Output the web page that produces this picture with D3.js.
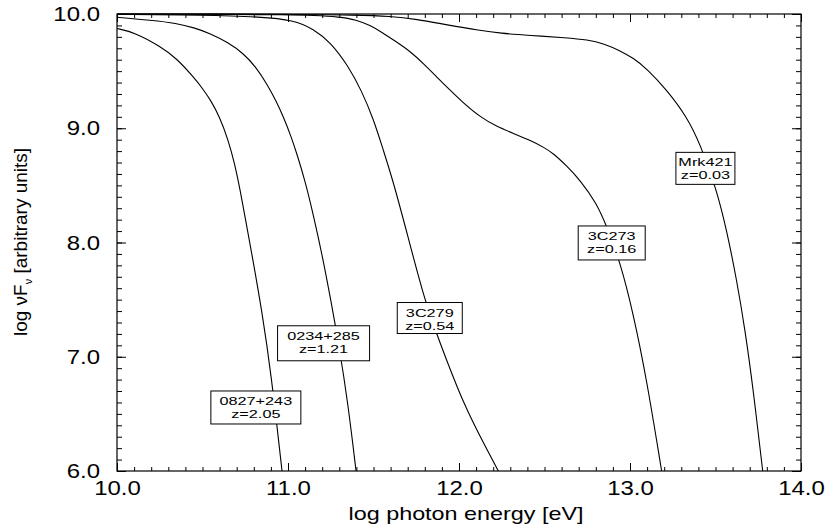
<!DOCTYPE html>
<html>
<head>
<meta charset="utf-8">
<script src="https://cdn.jsdelivr.net/npm/d3@7"></script>
<style>
  body { margin: 0; background: #fff; }
  text { font-family: "Liberation Sans", Arial, sans-serif; fill: #000; }
</style>
</head>
<body>
<script>
// spectra: [log photon energy, log nuFnu]
const s0827 = [[10.00, 9.873], [10.10, 9.84], [10.25, 9.72], [10.35, 9.61], [10.446, 9.45],
  [10.50, 9.35], [10.55, 9.24], [10.60, 9.10], [10.65, 8.90], [10.69, 8.68], [10.72, 8.46],
  [10.758, 8.15], [10.797, 7.83], [10.846, 7.41], [10.90, 6.87], [10.965, 6.00]];
const s0234 = [[10.00, 9.971], [10.20, 9.945], [10.349, 9.919], [10.45, 9.88], [10.544, 9.831],
  [10.65, 9.75], [10.739, 9.656], [10.81, 9.54], [10.875, 9.393], [10.93, 9.24], [10.973, 9.10],
  [11.02, 8.92], [11.051, 8.78], [11.10, 8.54], [11.15, 8.23], [11.20, 7.89], [11.25, 7.50],
  [11.30, 7.08], [11.35, 6.60], [11.398, 6.00]];
const s3C279 = [[10.00, 9.996], [10.50, 9.99], [10.85, 9.975], [11.03, 9.947], [11.15, 9.87],
  [11.25, 9.75], [11.35, 9.55], [11.43, 9.33], [11.50, 9.08], [11.557, 8.81], [11.613, 8.547],
  [11.70, 8.06], [11.80, 7.49], [11.87, 7.20], [11.94, 6.92], [12.02, 6.62], [12.10, 6.37],
  [12.17, 6.17], [12.23, 6.00]];
const s3C273 = [[10.00, 10.00], [10.60, 9.998], [11.00, 9.993], [11.15, 9.988], [11.30, 9.975],
  [11.40, 9.95], [11.48, 9.90], [11.55, 9.84], [11.63, 9.76], [11.713, 9.676], [11.80, 9.555],
  [11.87, 9.45], [11.928, 9.362], [12.025, 9.222], [12.123, 9.10], [12.22, 9.015], [12.318, 8.955],
  [12.415, 8.895], [12.50, 8.83], [12.551, 8.78], [12.63, 8.67], [12.708, 8.547], [12.805, 8.343],
  [12.864, 8.14], [12.942, 7.832], [13.019, 7.38], [13.098, 6.797], [13.185, 6.00]];
const sMrk421 = [[10.00, 10.00], [11.00, 9.999], [11.40, 9.99], [11.60, 9.98], [11.75, 9.955],
  [11.93, 9.905], [12.123, 9.856], [12.24, 9.832], [12.415, 9.812], [12.63, 9.792], [12.75, 9.775],
  [12.85, 9.74], [12.94, 9.68], [13.019, 9.615], [13.10, 9.52], [13.215, 9.335], [13.332, 9.101],
  [13.409, 8.868], [13.507, 8.46], [13.565, 8.109], [13.624, 7.672], [13.673, 7.234],
  [13.721, 6.709], [13.776, 6.00]];

const spectra = [s0827, s0234, s3C279, s3C273, sMrk421];
const sources = ["0827+243", "0234+285", "3C279", "3C273", "Mrk421"];
const redshifts = ["z=2.05", "z=1.21", "z=0.54", "z=0.16", "z=0.03"];

const xTicks = [10, 11, 12, 13, 14];
const yTicks = [6, 7, 8, 9, 10];

// label boxes: centre in data units, size in px
const boxes = [
  {cx: 10.812, cy: 6.556, w: 90, h: 33},
  {cx: 11.208, cy: 7.118, w: 92, h: 35},
  {cx: 11.829, cy: 7.339, w: 65, h: 31},
  {cx: 12.893, cy: 7.996, w: 67, h: 34},
  {cx: 13.441, cy: 8.649, w: 59, h: 32}
];

const width = 825, height = 529;
const margin = {top: 14, right: 24, bottom: 58, left: 117};
const stretch = 1.23;   // the original type is set wide

const svg = d3.select("body").append("svg")
  .attr("width", width)
  .attr("height", height);

const x = d3.scaleLinear().domain([10, 14]).range([margin.left, width - margin.right]);
const y = d3.scaleLinear().domain([6, 10]).range([height - margin.bottom, margin.top]);

const minorX = d3.range(10, 14.001, 0.1);
const minorY = d3.range(6, 10.001, 0.1);

function frame(g) { g.select(".domain").remove(); g.selectAll("line").attr("stroke", "#000"); }

// minor ticks, all four sides, pointing in
svg.append("g").attr("transform", `translate(0,${y(6)})`)
  .call(d3.axisBottom(x).tickValues(minorX).tickSize(-4).tickFormat("")).call(frame);
svg.append("g").attr("transform", `translate(0,${y(10)})`)
  .call(d3.axisTop(x).tickValues(minorX).tickSize(-4).tickFormat("")).call(frame);
svg.append("g").attr("transform", `translate(${x(10)},0)`)
  .call(d3.axisLeft(y).tickValues(minorY).tickSize(-5).tickFormat("")).call(frame);
svg.append("g").attr("transform", `translate(${x(14)},0)`)
  .call(d3.axisRight(y).tickValues(minorY).tickSize(-5).tickFormat("")).call(frame);

// major ticks + labels
const xAxis = svg.append("g").attr("transform", `translate(0,${y(6)})`)
  .call(d3.axisBottom(x).tickValues(xTicks).tickSize(-8).tickFormat(d3.format(".1f"))).call(frame);
xAxis.selectAll("text").attr("y", 24).attr("dy", null)
  .attr("font-size", 19.5).attr("transform", `scale(${stretch},1)`);

svg.append("g").attr("transform", `translate(0,${y(10)})`)
  .call(d3.axisTop(x).tickValues(xTicks).tickSize(-8).tickFormat("")).call(frame);

const yAxis = svg.append("g").attr("transform", `translate(${x(10)},0)`)
  .call(d3.axisLeft(y).tickValues(yTicks).tickSize(-9).tickFormat(d3.format(".1f"))).call(frame);
yAxis.selectAll("text").attr("x", -17 / stretch).attr("dy", "0.34em")
  .attr("font-size", 19.5).attr("transform", `scale(${stretch},1)`);

svg.append("g").attr("transform", `translate(${x(14)},0)`)
  .call(d3.axisRight(y).tickValues(yTicks).tickSize(-9).tickFormat("")).call(frame);

// plot frame
svg.append("rect")
  .attr("x", x(10)).attr("y", y(10))
  .attr("width", x(14) - x(10)).attr("height", y(6) - y(10))
  .attr("fill", "none").attr("stroke", "#000").attr("stroke-width", 1.2);

// curves
const line = d3.line().x(d => x(d[0])).y(d => y(d[1])).curve(d3.curveBasis);
svg.append("g").selectAll("path")
  .data(spectra)
  .enter()
  .append("path")
  .attr("d", line)
  .attr("fill", "none")
  .attr("stroke", "#000")
  .attr("stroke-width", 1.1);

// labels
const lab = svg.append("g").selectAll("g")
  .data(boxes)
  .enter()
  .append("g")
  .attr("transform", d => `translate(${x(d.cx)},${y(d.cy)})`);

lab.append("rect")
  .attr("x", d => -d.w / 2).attr("y", d => -d.h / 2)
  .attr("width", d => d.w).attr("height", d => d.h)
  .attr("fill", "#fff").attr("stroke", "#000").attr("stroke-width", 1);

lab.append("text")
  .attr("y", d => -d.h / 2 + 14)
  .attr("text-anchor", "middle")
  .attr("font-size", 11.2)
  .attr("transform", "scale(1.45,1)")
  .text((d, i) => sources[i]);

lab.append("text")
  .attr("y", d => -d.h / 2 + 27)
  .attr("text-anchor", "middle")
  .attr("font-size", 11.2)
  .attr("transform", "scale(1.45,1)")
  .text((d, i) => redshifts[i]);

// axis titles
svg.append("text")
  .attr("transform", `translate(466,520) scale(${stretch},1)`)
  .attr("text-anchor", "middle")
  .attr("font-size", 19)
  .text("log photon energy [eV]");

const yt = svg.append("text")
  .attr("transform", "translate(27,242) rotate(-90)")
  .attr("text-anchor", "middle")
  .attr("font-size", 19);
yt.append("tspan").text("log νF");
yt.append("tspan").attr("font-size", 11).attr("dy", 5).text("ν");
yt.append("tspan").attr("dy", -5).text(" [arbitrary units]");
</script>
</body>
</html>
